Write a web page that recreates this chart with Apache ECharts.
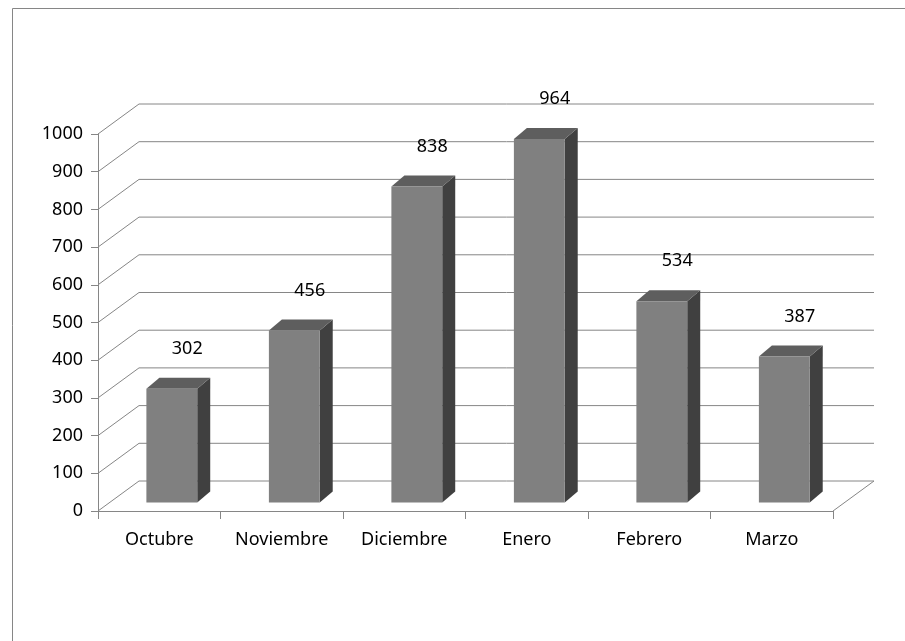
<!DOCTYPE html>
<html>
<head>
<meta charset="utf-8">
<title>Ventas por mes</title>
<script src="https://cdn.jsdelivr.net/npm/echarts@6/dist/echarts.min.js"></script>
<style>
  html, body { margin: 0; padding: 0; background: #fff; }
  #chart { width: 905px; height: 641px; }
</style>
</head>
<body>
<div id="chart"></div>
<script>
const months = ['Octubre', 'Noviembre', 'Diciembre', 'Enero', 'Febrero', 'Marzo']
const sales = [302, 456, 838, 964, 534, 387]
const yTicks = [0, 100, 200, 300, 400, 500, 600, 700, 800, 900, 1000]

// perspective of the back wall and of the bar boxes (px)
const WALL_DX = 41
const WALL_DY = -30
const BAR_DX = 13
const BAR_DY = -11
const FONT = '"Noto Sans", "Liberation Sans", sans-serif'

function renderWall(params, api) {
  const cs = params.coordSys
  const p = api.coord([0, api.value(1)])
  const x0 = cs.x
  const x1 = cs.x + cs.width
  const y = p[1]
  const style = { stroke: '#868686', lineWidth: 1, fill: null }
  const children = [
    {
      type: 'polyline',
      shape: { points: [[x0, y], [x0 + WALL_DX, y + WALL_DY], [x1 + WALL_DX, y + WALL_DY]] },
      style: style
    }
  ]
  if (api.value(1) === 0) {
    children.push({
      type: 'line',
      shape: { x1: x1, y1: y, x2: x1 + WALL_DX, y2: y + WALL_DY },
      style: style
    })
  }
  return { type: 'group', children: children }
}

function renderBar(params, api) {
  const idx = api.value(0)
  const val = api.value(1)
  const base = api.coord([idx, 0])
  const top = api.coord([idx, val])
  const band = api.size([1, 0])[0]
  const w = band * 0.415
  const xl = base[0] - band * 0.105
  const xr = xl + w
  const yb = base[1] - 8.5
  const yt = top[1] - 8.5
  return {
    type: 'group',
    children: [
      {
        type: 'polygon',
        shape: { points: [[xr, yb], [xr + BAR_DX, yb + BAR_DY], [xr + BAR_DX, yt + BAR_DY], [xr, yt]] },
        style: { fill: '#404040' }
      },
      {
        type: 'polygon',
        shape: { points: [[xl, yt], [xl + BAR_DX, yt + BAR_DY], [xr + BAR_DX, yt + BAR_DY], [xr, yt]] },
        style: { fill: '#5e5e5e' }
      },
      {
        type: 'rect',
        shape: { x: xl, y: yt, width: w, height: yb - yt },
        style: { fill: '#808080' }
      },
      {
        type: 'text',
        x: base[0] + 28,
        y: yt - 40,
        style: {
          text: String(val),
          fill: '#000',
          font: '18px ' + FONT,
          align: 'center',
          verticalAlign: 'middle'
        }
      }
    ]
  }
}

const chart = echarts.init(document.getElementById('chart'))
chart.setOption({
  animation: false,
  backgroundColor: '#fff',
  graphic: [
    {
      type: 'rect',
      left: 10,
      top: 6,
      shape: { width: 1000, height: 1000 },
      style: { fill: null, stroke: '#868686', lineWidth: 1 },
      silent: true
    }
  ],
  grid: {
    left: 98,
    right: 72,
    top: 134,
    bottom: 130
  },
  xAxis: {
    type: 'category',
    data: months,
    axisLine: { lineStyle: { color: '#868686' } },
    axisTick: { show: true, length: 8, lineStyle: { color: '#868686' } },
    axisLabel: { color: '#000', fontSize: 18, fontFamily: FONT, margin: 20 },
    splitLine: { show: false }
  },
  yAxis: {
    type: 'value',
    min: 0,
    max: 1000,
    interval: 100,
    axisLine: { show: true, lineStyle: { color: '#868686' } },
    axisTick: { show: true, length: 7, lineStyle: { color: '#868686' } },
    axisLabel: {
      color: '#000',
      fontSize: 18,
      fontFamily: FONT,
      margin: 15,
      formatter: (v) => String(v)
    },
    splitLine: { show: false }
  },
  series: [
    {
      name: 'wall',
      type: 'custom',
      silent: true,
      renderItem: renderWall,
      data: yTicks.map((v) => [0, v]),
      z: 1
    },
    {
      name: 'Ventas',
      type: 'custom',
      renderItem: renderBar,
      data: sales.map((v, i) => [i, v]),
      z: 2
    }
  ]
})
</script>
</body>
</html>
